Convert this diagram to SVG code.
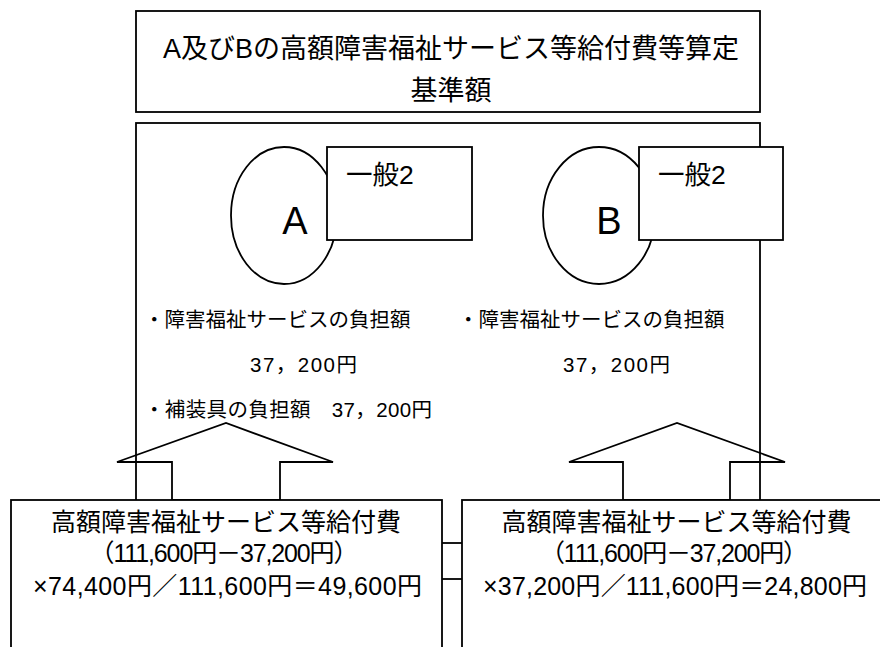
<svg xmlns="http://www.w3.org/2000/svg" width="880" height="647" viewBox="0 0 880 647">
<style>
text{font-family:"Liberation Sans","Noto Sans CJK JP",sans-serif;fill:#000}
.box{fill:#fff;stroke:#000;stroke-width:1.8}
.ln{fill:none;stroke:#000;stroke-width:1.8}
.t27{font-size:27px}
.t25{font-size:25px}
.t20{font-size:20.5px}
.big{font-size:38px}
.mid{font-size:26.5px}
</style>
<rect width="880" height="647" fill="#fff"/>
<g id="title">
<rect class="box" x="136" y="11" width="624" height="101"/>
<text class="t27" x="451" y="58" text-anchor="middle">A及びBの高額障害福祉サービス等給付費等算定</text>
<text class="t27" x="451" y="100" text-anchor="middle">基準額</text>
</g>
<g id="main">
<rect class="box" x="136" y="123" width="624" height="420"/>
</g>
<g id="personA">
<ellipse class="ln" cx="284" cy="215.5" rx="53" ry="68.5"/>
<text class="big" x="295" y="234" text-anchor="middle">A</text>
<rect class="box" x="327" y="147" width="145" height="93"/>
<text class="mid" x="346" y="184">一般2</text>
</g>
<g id="personB">
<ellipse class="ln" cx="599" cy="215.5" rx="56" ry="68.5"/>
<text class="big" x="609" y="234" text-anchor="middle">B</text>
<rect class="box" x="639" y="147" width="144" height="93"/>
<text class="mid" x="658" y="184">一般2</text>
</g>
<g id="textA">
<text class="t20" x="144" y="327">・障害福祉サービスの負担額</text>
<text class="t20" x="250" y="372" textLength="107" lengthAdjust="spacing">37，200円</text>
<text class="t20" x="144" y="417" textLength="288" lengthAdjust="spacing">・補装具の負担額　37，200円</text>
</g>
<g id="textB">
<text class="t20" x="458" y="327">・障害福祉サービスの負担額</text>
<text class="t20" x="563" y="372" textLength="107" lengthAdjust="spacing">37，200円</text>
</g>
<g id="connectors">
<polygon class="ln" points="172,500 172,462 117,462 226,423 333,462 280,462 280,500"/>
<polygon class="ln" points="623,500 623,462 569,462 677,423 785,462 730,462 730,500"/>
<line class="ln" x1="442" y1="579" x2="462" y2="579"/>
</g>
<g id="calcA">
<rect class="box" x="11" y="500" width="431" height="170"/>
<text class="t25" x="226" y="531" text-anchor="middle">高額障害福祉サービス等給付費</text>
<text class="t25" x="224" y="562" text-anchor="middle" textLength="269" lengthAdjust="spacing">（111,600円－37,200円）</text>
<text class="t25" x="227.5" y="595" text-anchor="middle" textLength="389" lengthAdjust="spacing">×74,400円／111,600円＝49,600円</text>
</g>
<g id="calcB">
<rect class="box" x="462" y="500" width="428" height="170"/>
<text class="t25" x="676.5" y="531" text-anchor="middle">高額障害福祉サービス等給付費</text>
<text class="t25" x="674" y="562" text-anchor="middle" textLength="268" lengthAdjust="spacing">（111,600円－37,200円）</text>
<text class="t25" x="675" y="595" text-anchor="middle" textLength="384" lengthAdjust="spacing">×37,200円／111,600円＝24,800円</text>
</g>
</svg>
